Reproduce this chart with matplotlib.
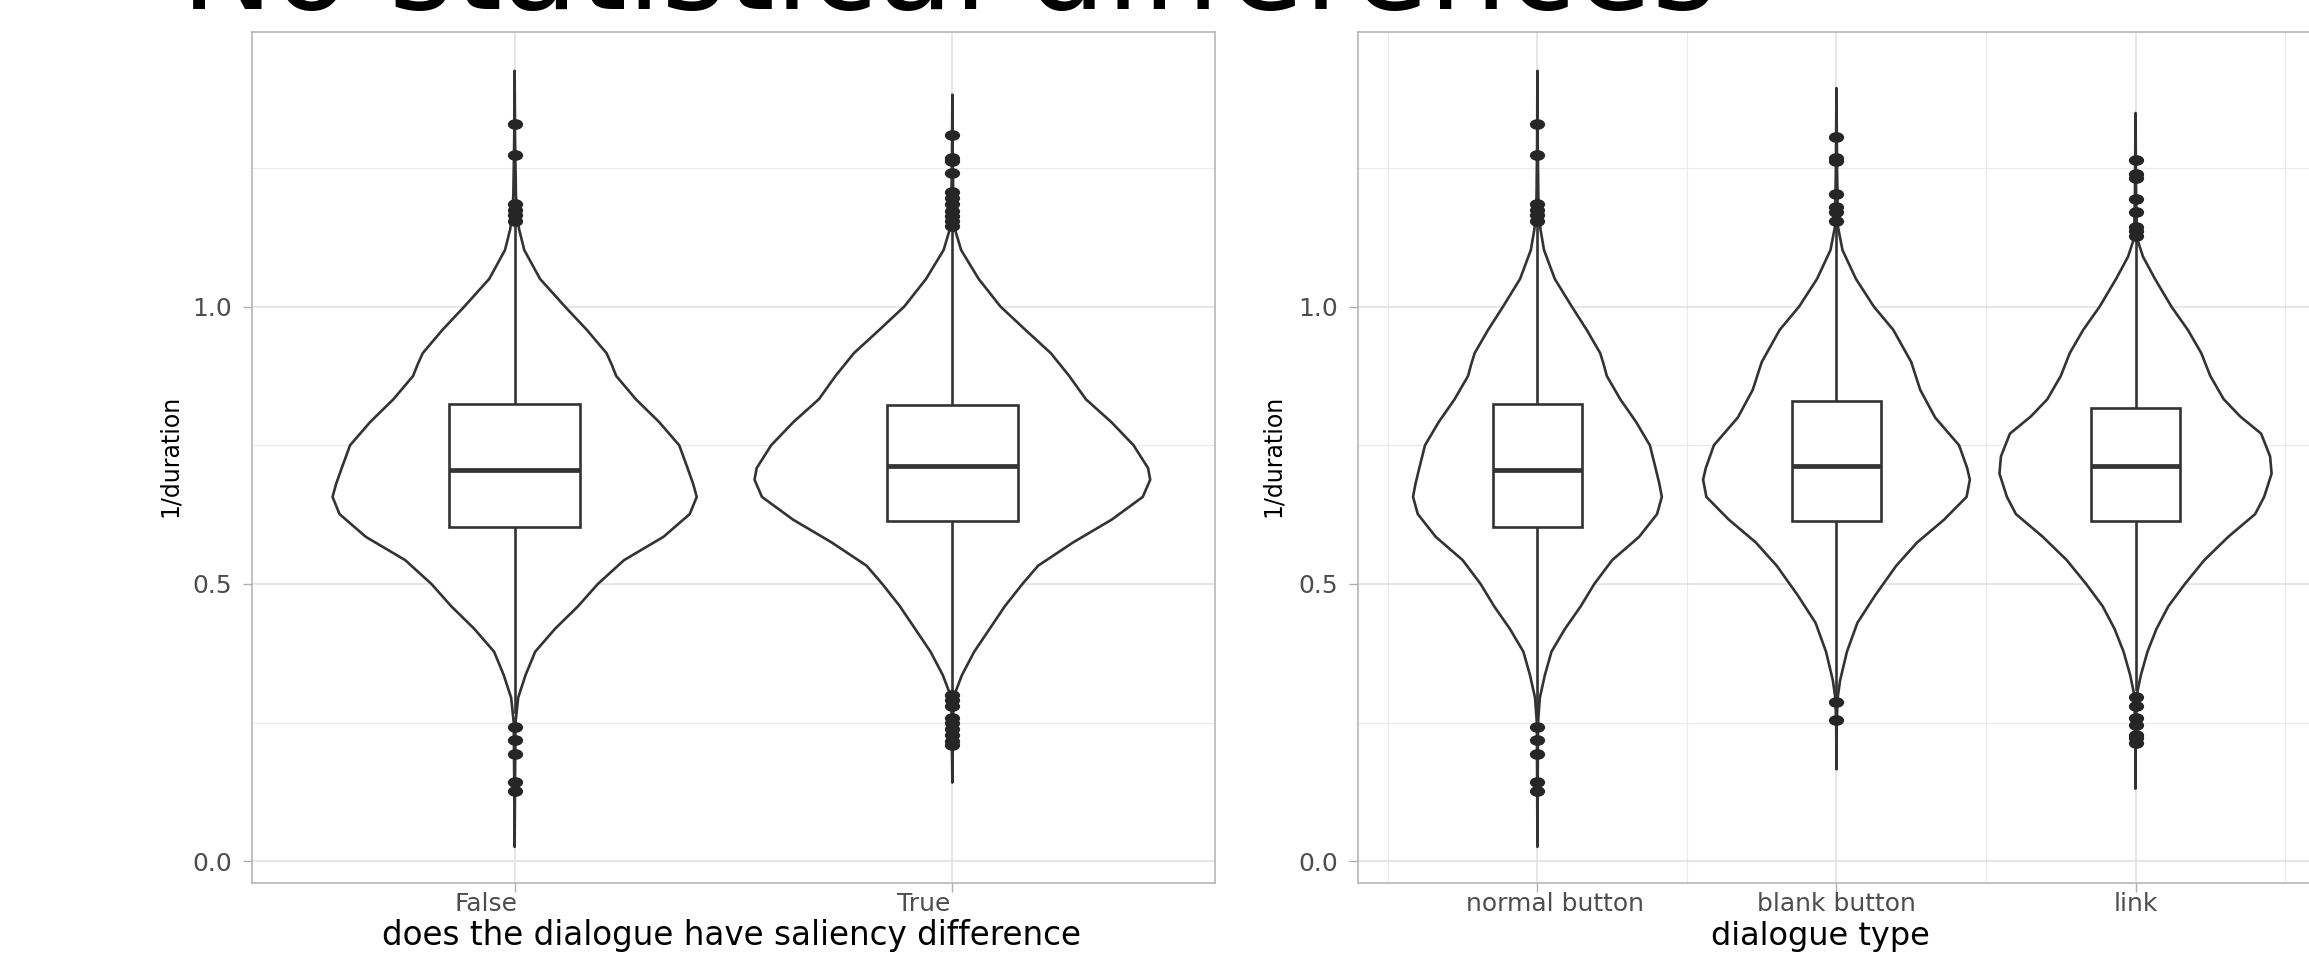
import matplotlib
matplotlib.use("Agg")
import matplotlib.pyplot as plt
from matplotlib.patches import Rectangle
from matplotlib.path import Path
from matplotlib.transforms import ScaledTranslation

W, H, DPI = 2309, 955, 100

# ---- values (y = 1/duration) ----
saliency_labels = ["False", "True"]
dialogue_labels = ["normal button", "blank button", "link"]

# violin outlines: level and half width (category units)
false_y = [1.425, 1.30, 1.20, 1.175, 1.14, 1.102, 1.05, 1.0, 0.958, 0.93, 0.916, 0.895,
           0.875, 0.833, 0.792, 0.75, 0.709, 0.68, 0.657, 0.626, 0.585, 0.543, 0.5,
           0.46, 0.419, 0.378, 0.336, 0.295, 0.25, 0.15, 0.026]
false_hw = [0.0, 0.001, 0.003, 0.005, 0.01, 0.022, 0.058, 0.115, 0.165, 0.195, 0.21, 0.222,
            0.232, 0.277, 0.33, 0.376, 0.395, 0.408, 0.416, 0.40, 0.34, 0.25, 0.19,
            0.145, 0.092, 0.047, 0.025, 0.008, 0.002, 0.001, 0.0]

true_y = [1.382, 1.25, 1.17, 1.139, 1.102, 1.05, 1.0, 0.958, 0.916, 0.875, 0.833, 0.792,
          0.75, 0.709, 0.688, 0.657, 0.616, 0.575, 0.533, 0.5, 0.46, 0.419, 0.378,
          0.336, 0.305, 0.27, 0.142]
true_hw = [0.0, 0.001, 0.003, 0.006, 0.02, 0.06, 0.11, 0.167, 0.225, 0.267, 0.305, 0.363,
           0.414, 0.447, 0.452, 0.435, 0.364, 0.276, 0.196, 0.16, 0.12, 0.085, 0.05,
           0.022, 0.007, 0.002, 0.0]

blank_y = [1.394, 1.25, 1.144, 1.102, 1.05, 1.0, 0.958, 0.9, 0.85, 0.8, 0.75, 0.709,
           0.688, 0.657, 0.616, 0.575, 0.533, 0.48, 0.43, 0.378, 0.326, 0.295, 0.25, 0.166]
blank_hw = [0.0, 0.002, 0.005, 0.02, 0.065, 0.125, 0.19, 0.25, 0.28, 0.33, 0.41, 0.437,
            0.446, 0.435, 0.36, 0.27, 0.2, 0.13, 0.07, 0.035, 0.012, 0.004, 0.001, 0.0]

link_y = [1.349, 1.2, 1.123, 1.09, 1.05, 1.0, 0.958, 0.916, 0.875, 0.833, 0.802, 0.771,
          0.73, 0.699, 0.657, 0.626, 0.585, 0.543, 0.5, 0.46, 0.419, 0.378, 0.336,
          0.305, 0.25, 0.131]
link_hw = [0.0, 0.002, 0.005, 0.025, 0.065, 0.12, 0.175, 0.22, 0.25, 0.295, 0.35, 0.42,
           0.45, 0.455, 0.43, 0.40, 0.31, 0.23, 0.165, 0.11, 0.07, 0.04, 0.018,
           0.006, 0.001, 0.0]

# boxes: q1, median, q3, lower whisker end, upper whisker end
false_box = [0.603, 0.706, 0.825, 0.27, 1.155]
true_box = [0.613, 0.712, 0.823, 0.30, 1.14]
blank_box = [0.613, 0.712, 0.829, 0.29, 1.15]
link_box = [0.614, 0.712, 0.817, 0.31, 1.12]

false_out = [1.329, 1.273, 1.185, 1.175, 1.165, 1.155, 0.242, 0.219, 0.194, 0.143, 0.126]
true_out = [1.31, 1.268, 1.262, 1.24, 1.206, 1.195, 1.185, 1.172, 1.163, 1.154, 1.145,
            0.30, 0.29, 0.28, 0.259, 0.25, 0.238, 0.228, 0.217, 0.21]
blank_out = [1.306, 1.268, 1.262, 1.203, 1.18, 1.17, 1.154, 0.288, 0.255]
link_out = [1.265, 1.239, 1.232, 1.194, 1.17, 1.144, 1.136, 1.128,
            0.297, 0.28, 0.259, 0.245, 0.228, 0.222, 0.214]

# the "normal button" group is the same data as "False"
normal_y, normal_hw, normal_box, normal_out = false_y, false_hw, false_box, false_out

LINE = "#333333"
GRID = "#E0E0E0"
BORDER = "#B0B0B0"
LW = 1.9

# the screenshot is stretched sideways, so the dots are a bit wider than tall
_circ = Path.unit_circle()
DOT = Path(_circ.vertices * [1.0, 0.7], _circ.codes)


def draw_group(ax, x, ys, hws, box, outliers, box_w=0.3):
    xs = [x - w for w in hws] + [x + w for w in hws[::-1]]
    yy = list(ys) + list(ys[::-1])
    ax.fill(xs, yy, facecolor="white", edgecolor=LINE, lw=LW, zorder=2,
            joinstyle="round")
    q1, med, q3, lo, hi = box
    ax.plot([x, x], [q3, hi], color=LINE, lw=LW, zorder=3)
    ax.plot([x, x], [lo, q1], color=LINE, lw=LW, zorder=3)
    ax.add_patch(Rectangle((x - box_w / 2, q1), box_w, q3 - q1, facecolor="white",
                           edgecolor=LINE, lw=LW, zorder=4))
    ax.plot([x - box_w / 2, x + box_w / 2], [med, med], color=LINE, lw=LW * 1.8,
            zorder=5, solid_capstyle="butt")
    ax.plot([x] * len(outliers), outliers, marker=DOT, ls="none", color="#262626",
            ms=11, mew=0, zorder=6)


def style(ax):
    ax.set_ylim(-0.039, 1.495)
    ax.set_yticks([0, 0.5, 1.0])
    ax.set_yticklabels(["0.0", "0.5", "1.0"])
    ax.set_yticks([0.25, 0.75, 1.25], minor=True)
    ax.set_axisbelow(True)
    ax.grid(which="major", color=GRID, lw=1.1)
    ax.grid(which="minor", color="#EAEAEA", lw=0.8)
    for s in ax.spines.values():
        s.set_color(BORDER)
        s.set_linewidth(1.1)
    ax.tick_params(which="major", length=6.5, width=1.0, color=BORDER,
                   labelcolor="#4D4D4D", labelsize=18)
    ax.tick_params(axis="y", which="major", pad=8)
    ax.tick_params(axis="x", which="major", pad=0)
    ax.tick_params(which="minor", length=0)


fig = plt.figure(figsize=(W / DPI, H / DPI), dpi=DPI)
bottom, height = (H - 883) / H, (883 - 32) / H
ax1 = fig.add_axes([252 / W, bottom, (1215 - 252) / W, height])
ax2 = fig.add_axes([1358 / W, bottom, (2614 - 1358) / W, height])

# left panel: saliency difference
draw_group(ax1, 1, false_y, false_hw, false_box, false_out)
draw_group(ax1, 2, true_y, true_hw, true_box, true_out)
ax1.set_xlim(0.4, 2.6)
ax1.set_xticks([1, 2])
ax1.set_xticklabels(saliency_labels)
style(ax1)

# right panel: dialogue type
draw_group(ax2, 1, normal_y, normal_hw, normal_box, normal_out)
draw_group(ax2, 2, blank_y, blank_hw, blank_box, blank_out)
draw_group(ax2, 3, link_y, link_hw, link_box, link_out)
ax2.set_xlim(0.4, 4.6)
ax2.set_xticks([1, 2, 3])
ax2.set_xticks([0.5, 1.5, 2.5, 3.5], minor=True)
ax2.set_xticklabels(dialogue_labels)
style(ax2)

# small horizontal shifts of the category labels, as in the screenshot
for ax, shifts in ((ax1, [-29, -29]), (ax2, [18, 0, 0])):
    for lab, dx in zip(ax.get_xticklabels(), shifts):
        lab.set_transform(lab.get_transform() +
                          ScaledTranslation(dx / DPI, 0, fig.dpi_scale_trans))

# axis titles
fig.text(170 / W, 1 - 456 / H, "1/duration", rotation=90, ha="center", va="center",
         fontsize=17, color="black")
fig.text(1273 / W, 1 - 456 / H, "1/duration", rotation=90, ha="center", va="center",
         fontsize=17, color="black")
fig.text(732 / W, 1 - 945 / H, "does the dialogue have saliency difference",
         ha="center", va="baseline", fontsize=23.5, color="black")
fig.text(1820 / W, 1 - 945 / H, "dialogue type", ha="center", va="baseline",
         fontsize=23, color="black")

# slide title, mostly cut off at the top edge
title = fig.text(181 / W, 1 - 9 / H, "No statistical differences", ha="left",
                 va="baseline", fontsize=80, color="black")
fig.canvas.draw()
bb = title.get_window_extent()
title.set_fontsize(80 * 1535 / bb.width)

fig.savefig("out.png", dpi=DPI)
